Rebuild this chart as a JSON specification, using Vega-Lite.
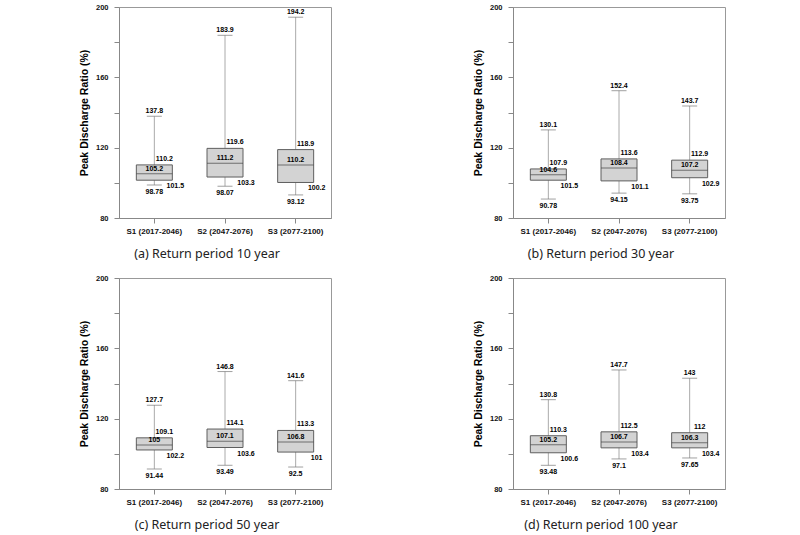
{
  "$schema": "https://vega.github.io/schema/vega-lite/v6.json",
  "background": "white",
  "padding": {"left": 78, "top": 2, "right": 5, "bottom": 5},
  "data": {"values": [
    {"panel": "a", "scenario": "S1 (2017-2046)", "min": 98.78, "q1": 101.5, "median": 105.2, "q3": 110.2, "max": 137.8},
    {"panel": "a", "scenario": "S2 (2047-2076)", "min": 98.07, "q1": 103.3, "median": 111.2, "q3": 119.6, "max": 183.9},
    {"panel": "a", "scenario": "S3 (2077-2100)", "min": 93.12, "q1": 100.2, "median": 110.2, "q3": 118.9, "max": 194.2},
    {"panel": "b", "scenario": "S1 (2017-2046)", "min": 90.78, "q1": 101.5, "median": 104.6, "q3": 107.9, "max": 130.1},
    {"panel": "b", "scenario": "S2 (2047-2076)", "min": 94.15, "q1": 101.1, "median": 108.4, "q3": 113.6, "max": 152.4},
    {"panel": "b", "scenario": "S3 (2077-2100)", "min": 93.75, "q1": 102.9, "median": 107.2, "q3": 112.9, "max": 143.7},
    {"panel": "c", "scenario": "S1 (2017-2046)", "min": 91.44, "q1": 102.2, "median": 105, "q3": 109.1, "max": 127.7},
    {"panel": "c", "scenario": "S2 (2047-2076)", "min": 93.49, "q1": 103.6, "median": 107.1, "q3": 114.1, "max": 146.8},
    {"panel": "c", "scenario": "S3 (2077-2100)", "min": 92.5, "q1": 101, "median": 106.8, "q3": 113.3, "max": 141.6},
    {"panel": "d", "scenario": "S1 (2017-2046)", "min": 93.48, "q1": 100.6, "median": 105.2, "q3": 110.3, "max": 130.8},
    {"panel": "d", "scenario": "S2 (2047-2076)", "min": 97.1, "q1": 103.4, "median": 106.7, "q3": 112.5, "max": 147.7},
    {"panel": "d", "scenario": "S3 (2077-2100)", "min": 97.65, "q1": 103.4, "median": 106.3, "q3": 112, "max": 143}
  ]},
  "spacing": 12,
  "vconcat": [
    {"hconcat": [
      {"width": 212, "height": 211, "transform": [{"filter": "datum.panel == 'a'"}], "title": {"text": "(a) Return period 10 year"},
       "encoding": {"x": {"field": "scenario", "type": "nominal", "title": null, "sort": null}},
       "layer": [
        {"mark": {"type": "rule", "color": "#aaa"}, "encoding": {"y": {"field": "min", "type": "quantitative", "scale": {"domain": [80, 200], "nice": false}, "title": "Peak Discharge Ratio (%)"}, "y2": {"field": "max"}}},
        {"mark": {"type": "tick", "color": "#777", "size": 15, "thickness": 1}, "encoding": {"y": {"field": "min", "type": "quantitative", "scale": {"domain": [80, 200], "nice": false}, "title": "Peak Discharge Ratio (%)"}}},
        {"mark": {"type": "tick", "color": "#777", "size": 15, "thickness": 1}, "encoding": {"y": {"field": "max", "type": "quantitative", "scale": {"domain": [80, 200], "nice": false}, "title": "Peak Discharge Ratio (%)"}}},
        {"mark": {"type": "bar", "size": 36, "fill": "#d3d3d3", "stroke": "#5e5e5e", "strokeWidth": 1}, "encoding": {"y": {"field": "q1", "type": "quantitative", "scale": {"domain": [80, 200], "nice": false}, "title": "Peak Discharge Ratio (%)"}, "y2": {"field": "q3"}}},
        {"mark": {"type": "tick", "color": "#444", "size": 36, "thickness": 1}, "encoding": {"y": {"field": "median", "type": "quantitative", "scale": {"domain": [80, 200], "nice": false}, "title": "Peak Discharge Ratio (%)"}}},
        {"mark": {"type": "text", "baseline": "bottom", "dy": -2}, "encoding": {"y": {"field": "max", "type": "quantitative", "scale": {"domain": [80, 200], "nice": false}, "title": "Peak Discharge Ratio (%)"}, "text": {"field": "max"}}},
        {"mark": {"type": "text", "baseline": "top", "dy": 3}, "encoding": {"y": {"field": "min", "type": "quantitative", "scale": {"domain": [80, 200], "nice": false}, "title": "Peak Discharge Ratio (%)"}, "text": {"field": "min"}}},
        {"mark": {"type": "text", "baseline": "bottom", "dy": -2}, "encoding": {"y": {"field": "median", "type": "quantitative", "scale": {"domain": [80, 200], "nice": false}, "title": "Peak Discharge Ratio (%)"}, "text": {"field": "median"}}},
        {"mark": {"type": "text", "baseline": "bottom", "dy": -3, "dx": 10}, "encoding": {"y": {"field": "q3", "type": "quantitative", "scale": {"domain": [80, 200], "nice": false}, "title": "Peak Discharge Ratio (%)"}, "text": {"field": "q3"}}},
        {"mark": {"type": "text", "baseline": "top", "dy": 2, "dx": 21}, "encoding": {"y": {"field": "q1", "type": "quantitative", "scale": {"domain": [80, 200], "nice": false}, "title": "Peak Discharge Ratio (%)"}, "text": {"field": "q1"}}}
       ]},
      {"width": 212, "height": 211, "transform": [{"filter": "datum.panel == 'b'"}], "title": {"text": "(b) Return period 30 year"},
       "encoding": {"x": {"field": "scenario", "type": "nominal", "title": null, "sort": null}},
       "layer": [
        {"mark": {"type": "rule", "color": "#aaa"}, "encoding": {"y": {"field": "min", "type": "quantitative", "scale": {"domain": [80, 200], "nice": false}, "title": "Peak Discharge Ratio (%)"}, "y2": {"field": "max"}}},
        {"mark": {"type": "tick", "color": "#777", "size": 15, "thickness": 1}, "encoding": {"y": {"field": "min", "type": "quantitative", "scale": {"domain": [80, 200], "nice": false}, "title": "Peak Discharge Ratio (%)"}}},
        {"mark": {"type": "tick", "color": "#777", "size": 15, "thickness": 1}, "encoding": {"y": {"field": "max", "type": "quantitative", "scale": {"domain": [80, 200], "nice": false}, "title": "Peak Discharge Ratio (%)"}}},
        {"mark": {"type": "bar", "size": 36, "fill": "#d3d3d3", "stroke": "#5e5e5e", "strokeWidth": 1}, "encoding": {"y": {"field": "q1", "type": "quantitative", "scale": {"domain": [80, 200], "nice": false}, "title": "Peak Discharge Ratio (%)"}, "y2": {"field": "q3"}}},
        {"mark": {"type": "tick", "color": "#444", "size": 36, "thickness": 1}, "encoding": {"y": {"field": "median", "type": "quantitative", "scale": {"domain": [80, 200], "nice": false}, "title": "Peak Discharge Ratio (%)"}}},
        {"mark": {"type": "text", "baseline": "bottom", "dy": -2}, "encoding": {"y": {"field": "max", "type": "quantitative", "scale": {"domain": [80, 200], "nice": false}, "title": "Peak Discharge Ratio (%)"}, "text": {"field": "max"}}},
        {"mark": {"type": "text", "baseline": "top", "dy": 3}, "encoding": {"y": {"field": "min", "type": "quantitative", "scale": {"domain": [80, 200], "nice": false}, "title": "Peak Discharge Ratio (%)"}, "text": {"field": "min"}}},
        {"mark": {"type": "text", "baseline": "bottom", "dy": -2}, "encoding": {"y": {"field": "median", "type": "quantitative", "scale": {"domain": [80, 200], "nice": false}, "title": "Peak Discharge Ratio (%)"}, "text": {"field": "median"}}},
        {"mark": {"type": "text", "baseline": "bottom", "dy": -3, "dx": 10}, "encoding": {"y": {"field": "q3", "type": "quantitative", "scale": {"domain": [80, 200], "nice": false}, "title": "Peak Discharge Ratio (%)"}, "text": {"field": "q3"}}},
        {"mark": {"type": "text", "baseline": "top", "dy": 2, "dx": 21}, "encoding": {"y": {"field": "q1", "type": "quantitative", "scale": {"domain": [80, 200], "nice": false}, "title": "Peak Discharge Ratio (%)"}, "text": {"field": "q1"}}}
       ]}
    ], "spacing": 140},
    {"hconcat": [
      {"width": 212, "height": 211, "transform": [{"filter": "datum.panel == 'c'"}], "title": {"text": "(c) Return period 50 year"},
       "encoding": {"x": {"field": "scenario", "type": "nominal", "title": null, "sort": null}},
       "layer": [
        {"mark": {"type": "rule", "color": "#aaa"}, "encoding": {"y": {"field": "min", "type": "quantitative", "scale": {"domain": [80, 200], "nice": false}, "title": "Peak Discharge Ratio (%)"}, "y2": {"field": "max"}}},
        {"mark": {"type": "tick", "color": "#777", "size": 15, "thickness": 1}, "encoding": {"y": {"field": "min", "type": "quantitative", "scale": {"domain": [80, 200], "nice": false}, "title": "Peak Discharge Ratio (%)"}}},
        {"mark": {"type": "tick", "color": "#777", "size": 15, "thickness": 1}, "encoding": {"y": {"field": "max", "type": "quantitative", "scale": {"domain": [80, 200], "nice": false}, "title": "Peak Discharge Ratio (%)"}}},
        {"mark": {"type": "bar", "size": 36, "fill": "#d3d3d3", "stroke": "#5e5e5e", "strokeWidth": 1}, "encoding": {"y": {"field": "q1", "type": "quantitative", "scale": {"domain": [80, 200], "nice": false}, "title": "Peak Discharge Ratio (%)"}, "y2": {"field": "q3"}}},
        {"mark": {"type": "tick", "color": "#444", "size": 36, "thickness": 1}, "encoding": {"y": {"field": "median", "type": "quantitative", "scale": {"domain": [80, 200], "nice": false}, "title": "Peak Discharge Ratio (%)"}}},
        {"mark": {"type": "text", "baseline": "bottom", "dy": -2}, "encoding": {"y": {"field": "max", "type": "quantitative", "scale": {"domain": [80, 200], "nice": false}, "title": "Peak Discharge Ratio (%)"}, "text": {"field": "max"}}},
        {"mark": {"type": "text", "baseline": "top", "dy": 3}, "encoding": {"y": {"field": "min", "type": "quantitative", "scale": {"domain": [80, 200], "nice": false}, "title": "Peak Discharge Ratio (%)"}, "text": {"field": "min"}}},
        {"mark": {"type": "text", "baseline": "bottom", "dy": -2}, "encoding": {"y": {"field": "median", "type": "quantitative", "scale": {"domain": [80, 200], "nice": false}, "title": "Peak Discharge Ratio (%)"}, "text": {"field": "median"}}},
        {"mark": {"type": "text", "baseline": "bottom", "dy": -3, "dx": 10}, "encoding": {"y": {"field": "q3", "type": "quantitative", "scale": {"domain": [80, 200], "nice": false}, "title": "Peak Discharge Ratio (%)"}, "text": {"field": "q3"}}},
        {"mark": {"type": "text", "baseline": "top", "dy": 2, "dx": 21}, "encoding": {"y": {"field": "q1", "type": "quantitative", "scale": {"domain": [80, 200], "nice": false}, "title": "Peak Discharge Ratio (%)"}, "text": {"field": "q1"}}}
       ]},
      {"width": 212, "height": 211, "transform": [{"filter": "datum.panel == 'd'"}], "title": {"text": "(d) Return period 100 year"},
       "encoding": {"x": {"field": "scenario", "type": "nominal", "title": null, "sort": null}},
       "layer": [
        {"mark": {"type": "rule", "color": "#aaa"}, "encoding": {"y": {"field": "min", "type": "quantitative", "scale": {"domain": [80, 200], "nice": false}, "title": "Peak Discharge Ratio (%)"}, "y2": {"field": "max"}}},
        {"mark": {"type": "tick", "color": "#777", "size": 15, "thickness": 1}, "encoding": {"y": {"field": "min", "type": "quantitative", "scale": {"domain": [80, 200], "nice": false}, "title": "Peak Discharge Ratio (%)"}}},
        {"mark": {"type": "tick", "color": "#777", "size": 15, "thickness": 1}, "encoding": {"y": {"field": "max", "type": "quantitative", "scale": {"domain": [80, 200], "nice": false}, "title": "Peak Discharge Ratio (%)"}}},
        {"mark": {"type": "bar", "size": 36, "fill": "#d3d3d3", "stroke": "#5e5e5e", "strokeWidth": 1}, "encoding": {"y": {"field": "q1", "type": "quantitative", "scale": {"domain": [80, 200], "nice": false}, "title": "Peak Discharge Ratio (%)"}, "y2": {"field": "q3"}}},
        {"mark": {"type": "tick", "color": "#444", "size": 36, "thickness": 1}, "encoding": {"y": {"field": "median", "type": "quantitative", "scale": {"domain": [80, 200], "nice": false}, "title": "Peak Discharge Ratio (%)"}}},
        {"mark": {"type": "text", "baseline": "bottom", "dy": -2}, "encoding": {"y": {"field": "max", "type": "quantitative", "scale": {"domain": [80, 200], "nice": false}, "title": "Peak Discharge Ratio (%)"}, "text": {"field": "max"}}},
        {"mark": {"type": "text", "baseline": "top", "dy": 3}, "encoding": {"y": {"field": "min", "type": "quantitative", "scale": {"domain": [80, 200], "nice": false}, "title": "Peak Discharge Ratio (%)"}, "text": {"field": "min"}}},
        {"mark": {"type": "text", "baseline": "bottom", "dy": -2}, "encoding": {"y": {"field": "median", "type": "quantitative", "scale": {"domain": [80, 200], "nice": false}, "title": "Peak Discharge Ratio (%)"}, "text": {"field": "median"}}},
        {"mark": {"type": "text", "baseline": "bottom", "dy": -3, "dx": 10}, "encoding": {"y": {"field": "q3", "type": "quantitative", "scale": {"domain": [80, 200], "nice": false}, "title": "Peak Discharge Ratio (%)"}, "text": {"field": "q3"}}},
        {"mark": {"type": "text", "baseline": "top", "dy": 2, "dx": 21}, "encoding": {"y": {"field": "q1", "type": "quantitative", "scale": {"domain": [80, 200], "nice": false}, "title": "Peak Discharge Ratio (%)"}, "text": {"field": "q1"}}}
       ]}
    ], "spacing": 140}
  ],
  "config": {
    "view": {"stroke": "#999", "strokeWidth": 1},
    "axis": {"grid": false, "domainColor": "#888", "tickColor": "#888", "labelFont": "Liberation Sans", "labelFontWeight": "bold", "labelFontSize": 8, "labelColor": "#111", "titleFont": "Liberation Sans", "titleFontSize": 10.5, "titleFontWeight": "bold", "titleColor": "#000"},
    "axisY": {"tickCount": 6, "labelExpr": "datum.value % 40 == 0 ? datum.label : ''", "tickSize": 5, "labelPadding": 6, "labelFontSize": 7.5, "titlePadding": 6},
    "axisX": {"labelAngle": 0, "tickSize": 5, "labelPadding": 4},
    "title": {"orient": "bottom", "font": "Noto Sans", "fontSize": 12.5, "fontWeight": "normal", "color": "#222", "dx": -18, "offset": 13, "anchor": "middle"},
    "text": {"font": "Liberation Sans", "fontWeight": "bold", "fontSize": 7, "color": "#000"}
  }
}
